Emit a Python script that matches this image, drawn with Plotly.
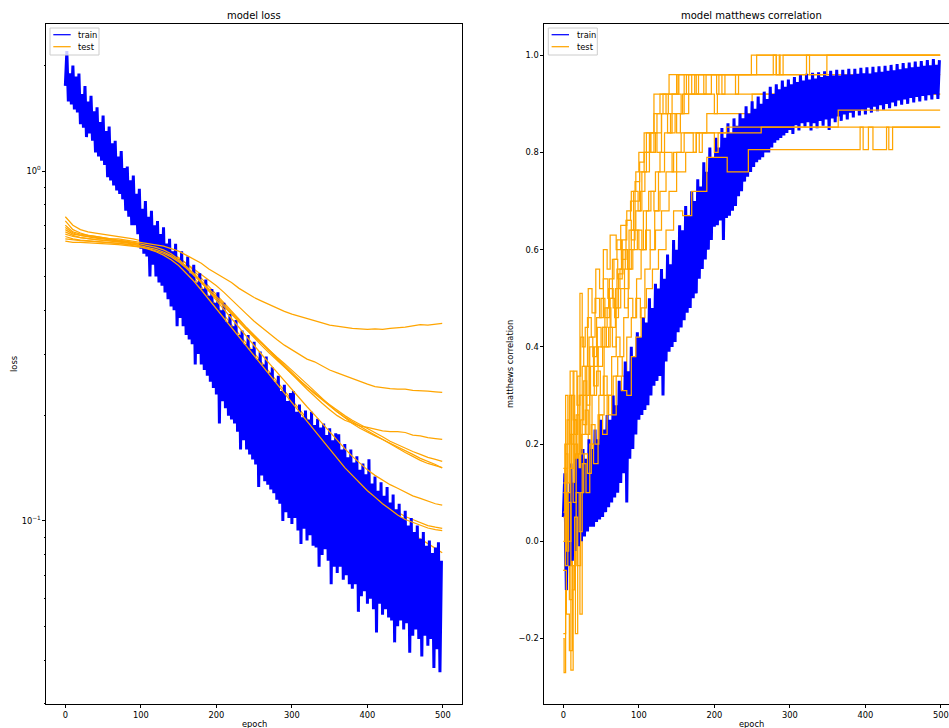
import plotly.graph_objects as go

# ---------------- data ----------------
TRAIN_EPOCHS = list(range(0, 500, 2))
TEST_EPOCHS = list(range(0, 500, 10)) + [499]

loss_train = [
    1.75, 2.2, 1.58, 1.9, 1.55, 2.0, 1.5, 1.86, 1.47, 1.9,
    1.36, 1.66, 1.33, 1.75, 1.25, 1.58, 1.28, 1.64, 1.22, 1.48,
    1.13, 1.52, 1.1, 1.38, 1.07, 1.44, 1.04, 1.3, 0.96, 1.34,
    0.94, 1.2, 0.91, 1.22, 0.88, 1.1, 0.86, 1.14, 0.83, 1.02,
    0.77, 1.03, 0.74, 0.94, 0.7, 0.97, 0.7, 0.86, 0.66, 0.89,
    0.6, 0.78, 0.58, 0.82, 0.57, 0.74, 0.5, 0.77, 0.54, 0.7,
    0.5, 0.72, 0.48, 0.66, 0.47, 0.69, 0.45, 0.62, 0.43, 0.64,
    0.41, 0.59, 0.4, 0.62, 0.36, 0.56, 0.38, 0.59, 0.36, 0.54,
    0.34, 0.57, 0.33, 0.51, 0.32, 0.54, 0.28, 0.48, 0.3, 0.51,
    0.28, 0.46, 0.27, 0.49, 0.26, 0.44, 0.25, 0.46, 0.24, 0.42,
    0.23, 0.45, 0.19, 0.4, 0.22, 0.42, 0.21, 0.37, 0.2, 0.39,
    0.195, 0.36, 0.19, 0.375, 0.18, 0.34, 0.16, 0.35, 0.17, 0.32,
    0.16, 0.34, 0.155, 0.31, 0.15, 0.325, 0.145, 0.29, 0.125, 0.305,
    0.135, 0.28, 0.13, 0.295, 0.127, 0.265, 0.123, 0.275, 0.12, 0.25,
    0.115, 0.26, 0.112, 0.235, 0.1, 0.245, 0.106, 0.22, 0.102, 0.232,
    0.098, 0.235, 0.102, 0.205, 0.094, 0.215, 0.086, 0.198, 0.095, 0.207,
    0.088, 0.195, 0.091, 0.205, 0.085, 0.188, 0.084, 0.196, 0.074, 0.185,
    0.08, 0.19, 0.083, 0.176, 0.077, 0.184, 0.066, 0.17, 0.074, 0.178,
    0.071, 0.177, 0.074, 0.16, 0.068, 0.166, 0.07, 0.152, 0.066, 0.16,
    0.064, 0.147, 0.066, 0.153, 0.055, 0.14, 0.061, 0.146, 0.063, 0.136,
    0.058, 0.15, 0.06, 0.128, 0.056, 0.134, 0.048, 0.122, 0.058, 0.129,
    0.054, 0.118, 0.056, 0.125, 0.053, 0.113, 0.052, 0.119, 0.045, 0.108,
    0.05, 0.112, 0.052, 0.102, 0.049, 0.107, 0.051, 0.097, 0.042, 0.102,
    0.047, 0.093, 0.049, 0.097, 0.046, 0.089, 0.041, 0.093, 0.047, 0.085,
    0.044, 0.088, 0.046, 0.081, 0.038, 0.084, 0.043, 0.087, 0.037, 0.077,
]

loss_test_a = [0.70, 0.67, 0.66, 0.655, 0.65, 0.645, 0.64, 0.64, 0.635, 0.63,
               0.625, 0.62, 0.615, 0.61, 0.60, 0.59, 0.575, 0.56, 0.545, 0.525,
               0.51, 0.495, 0.48, 0.462, 0.447, 0.435, 0.425, 0.415, 0.405, 0.397,
               0.39, 0.384, 0.378, 0.372, 0.368, 0.363, 0.36, 0.357, 0.355, 0.354,
               0.353, 0.354, 0.353, 0.355, 0.356, 0.358, 0.361, 0.364, 0.363, 0.366, 0.367]
loss_test_b = [0.74, 0.70, 0.68, 0.67, 0.665, 0.66, 0.655, 0.65, 0.645, 0.64,
               0.632, 0.624, 0.615, 0.605, 0.59, 0.565, 0.545, 0.525, 0.505, 0.487,
               0.47, 0.45, 0.43, 0.41, 0.39, 0.372, 0.357, 0.343, 0.33, 0.318,
               0.308, 0.298, 0.29, 0.285, 0.277, 0.27, 0.265, 0.26, 0.255, 0.25,
               0.246, 0.242, 0.24, 0.239, 0.238, 0.238, 0.236, 0.236, 0.235, 0.234, 0.233]
loss_test_c = [0.66, 0.65, 0.645, 0.64, 0.637, 0.635, 0.632, 0.63, 0.627, 0.623,
               0.618, 0.612, 0.605, 0.595, 0.58, 0.56, 0.535, 0.51, 0.485, 0.46,
               0.437, 0.415, 0.395, 0.375, 0.355, 0.338, 0.322, 0.306, 0.29, 0.275,
               0.262, 0.25, 0.238, 0.227, 0.217, 0.208, 0.2, 0.194, 0.19, 0.187,
               0.185, 0.183, 0.181, 0.18, 0.18, 0.179, 0.176, 0.175, 0.173, 0.172, 0.171]
loss_test_d = [0.68, 0.66, 0.655, 0.65, 0.645, 0.64, 0.637, 0.633, 0.63, 0.625,
               0.62, 0.613, 0.605, 0.595, 0.582, 0.565, 0.545, 0.52, 0.494, 0.468,
               0.444, 0.42, 0.398, 0.377, 0.357, 0.34, 0.323, 0.307, 0.292, 0.278,
               0.265, 0.253, 0.242, 0.232, 0.223, 0.215, 0.207, 0.2, 0.194, 0.189,
               0.184, 0.179, 0.174, 0.169, 0.165, 0.161, 0.158, 0.155, 0.152, 0.15, 0.148]
loss_test_e = [0.63, 0.625, 0.625, 0.624, 0.622, 0.62, 0.618, 0.616, 0.613, 0.61,
               0.606, 0.60, 0.592, 0.582, 0.568, 0.55, 0.528, 0.505, 0.48, 0.455,
               0.432, 0.41, 0.388, 0.368, 0.35, 0.333, 0.317, 0.302, 0.288, 0.275,
               0.263, 0.252, 0.241, 0.231, 0.222, 0.213, 0.205, 0.198, 0.192, 0.186,
               0.181, 0.176, 0.171, 0.166, 0.161, 0.157, 0.153, 0.149, 0.146, 0.144, 0.142]
loss_test_f = [0.72, 0.68, 0.665, 0.655, 0.65, 0.645, 0.64, 0.635, 0.63, 0.624,
               0.617, 0.609, 0.60, 0.588, 0.573, 0.555, 0.533, 0.508, 0.482, 0.457,
               0.433, 0.41, 0.389, 0.37, 0.352, 0.336, 0.321, 0.307, 0.294, 0.282,
               0.27, 0.258, 0.246, 0.235, 0.224, 0.214, 0.205, 0.197, 0.19, 0.184,
               0.179, 0.175, 0.171, 0.167, 0.163, 0.159, 0.155, 0.151, 0.148, 0.145, 0.1417]
loss_test_g = [0.65, 0.64, 0.635, 0.632, 0.63, 0.628, 0.626, 0.623, 0.62, 0.616,
               0.611, 0.605, 0.597, 0.587, 0.573, 0.555, 0.533, 0.508, 0.481, 0.454,
               0.427, 0.402, 0.378, 0.356, 0.336, 0.317, 0.299, 0.282, 0.266, 0.251,
               0.237, 0.224, 0.212, 0.201, 0.19, 0.18, 0.17, 0.161, 0.153, 0.146,
               0.14, 0.135, 0.131, 0.127, 0.124, 0.121, 0.118, 0.116, 0.114, 0.112, 0.111]
loss_test_h = [0.69, 0.665, 0.655, 0.648, 0.643, 0.64, 0.636, 0.632, 0.628, 0.622,
               0.615, 0.607, 0.597, 0.585, 0.568, 0.548, 0.523, 0.496, 0.467, 0.44,
               0.413, 0.388, 0.364, 0.342, 0.321, 0.301, 0.283, 0.266, 0.25, 0.235,
               0.221, 0.208, 0.196, 0.184, 0.173, 0.163, 0.153, 0.144, 0.136, 0.129,
               0.123, 0.118, 0.113, 0.109, 0.106, 0.103, 0.101, 0.099, 0.097, 0.096, 0.0953]
loss_test_i = [0.64, 0.635, 0.632, 0.63, 0.628, 0.626, 0.624, 0.621, 0.617, 0.612,
               0.606, 0.598, 0.588, 0.575, 0.558, 0.537, 0.512, 0.485, 0.457, 0.43,
               0.404, 0.38, 0.357, 0.336, 0.316, 0.297, 0.28, 0.263, 0.247, 0.232,
               0.218, 0.205, 0.193, 0.181, 0.17, 0.16, 0.151, 0.142, 0.135, 0.128,
               0.122, 0.117, 0.112, 0.108, 0.104, 0.101, 0.099, 0.097, 0.0955, 0.0945, 0.0938]
loss_test_j = [0.67, 0.655, 0.645, 0.64, 0.636, 0.633, 0.63, 0.627, 0.623, 0.618,
               0.612, 0.604, 0.594, 0.58, 0.562, 0.54, 0.513, 0.484, 0.453, 0.423,
               0.394, 0.367, 0.342, 0.319, 0.297, 0.277, 0.259, 0.242, 0.226, 0.211,
               0.198, 0.186, 0.174, 0.164, 0.154, 0.146, 0.138, 0.131, 0.124, 0.118,
               0.113, 0.108, 0.104, 0.10, 0.097, 0.094, 0.091, 0.089, 0.086, 0.0835, 0.0811]

mcc_train = [
    0.05, 0.14, -0.1, 0.1, -0.05, 0.16, -0.04, 0.12, -0.02, 0.17,
    -0.01, 0.15, 0.0, 0.19, 0.01, 0.17, 0.02, 0.21, 0.03, 0.19,
    0.03, 0.23, 0.04, 0.21, 0.045, 0.25, 0.05, 0.23, 0.06, 0.26,
    0.07, 0.25, 0.08, 0.3, 0.09, 0.28, 0.1, 0.33, 0.12, 0.31,
    0.14, 0.37, 0.08, 0.35, 0.17, 0.4, 0.19, 0.38, 0.22, 0.43,
    0.25, 0.42, 0.26, 0.46, 0.27, 0.45, 0.28, 0.5, 0.3, 0.48,
    0.32, 0.53, 0.33, 0.52, 0.34, 0.56, 0.3, 0.54, 0.37, 0.59,
    0.39, 0.57, 0.4, 0.62, 0.41, 0.6, 0.43, 0.65, 0.44, 0.64,
    0.455, 0.69, 0.47, 0.67, 0.48, 0.72, 0.5, 0.7, 0.51, 0.745,
    0.54, 0.73, 0.56, 0.78, 0.58, 0.76, 0.6, 0.81, 0.62, 0.79,
    0.647, 0.83, 0.65, 0.81, 0.66, 0.85, 0.62, 0.83, 0.665, 0.86,
    0.67, 0.84, 0.68, 0.87, 0.69, 0.855, 0.71, 0.88, 0.72, 0.87,
    0.74, 0.895, 0.75, 0.88, 0.76, 0.905, 0.77, 0.89, 0.78, 0.915,
    0.785, 0.9, 0.79, 0.925, 0.8, 0.91, 0.8, 0.935, 0.81, 0.92,
    0.82, 0.94, 0.825, 0.93, 0.83, 0.948, 0.835, 0.935, 0.84, 0.95,
    0.846, 0.94, 0.838, 0.955, 0.856, 0.945, 0.845, 0.96, 0.86, 0.948,
    0.853, 0.962, 0.862, 0.95, 0.845, 0.964, 0.86, 0.952, 0.85, 0.965,
    0.865, 0.955, 0.855, 0.967, 0.868, 0.957, 0.846, 0.968, 0.87, 0.958,
    0.862, 0.97, 0.874, 0.958, 0.865, 0.97, 0.878, 0.96, 0.868, 0.972,
    0.882, 0.96, 0.872, 0.972, 0.886, 0.962, 0.876, 0.974, 0.888, 0.963,
    0.878, 0.975, 0.892, 0.962, 0.882, 0.976, 0.894, 0.965, 0.885, 0.977,
    0.897, 0.966, 0.888, 0.978, 0.9, 0.968, 0.891, 0.98, 0.903, 0.969,
    0.895, 0.982, 0.907, 0.971, 0.898, 0.984, 0.909, 0.973, 0.9, 0.985,
    0.912, 0.975, 0.903, 0.987, 0.914, 0.976, 0.905, 0.988, 0.916, 0.978,
    0.907, 0.99, 0.918, 0.979, 0.909, 0.992, 0.92, 0.98, 0.91, 0.99,
]

# test folds: [epoch, value] change points (drawn as steps)
mcc_test_1 = [[0, 0.06], [2, 0.2], [5, 0.12], [8, 0.3], [11, 0.2], [14, 0.35], [18, 0.28], [22, 0.51],
              [25, 0.4], [29, 0.44], [33, 0.52], [38, 0.47], [43, 0.56], [48, 0.52], [53, 0.6], [58, 0.56],
              [62, 0.63], [70, 0.6], [76, 0.65], [84, 0.68], [90, 0.72], [96, 0.76], [100, 0.8], [110, 0.84],
              [120, 0.92], [136, 0.88], [139, 0.92], [152, 0.96], [160, 0.92], [163, 0.96], [249, 1.0],
              [287, 0.96], [291, 1.0], [499, 1.0]]
mcc_test_2 = [[0, -0.2], [1, -0.27], [3, -0.1], [5, 0.05], [8, -0.05], [11, 0.12], [15, 0.2], [19, 0.1],
              [23, 0.25], [27, 0.33], [31, 0.28], [35, 0.4], [40, 0.36], [45, 0.44], [50, 0.4], [55, 0.48],
              [60, 0.52], [66, 0.48], [71, 0.56], [77, 0.6], [82, 0.56], [87, 0.64], [93, 0.72], [99, 0.68],
              [104, 0.76], [110, 0.8], [116, 0.84], [124, 0.88], [132, 0.92], [150, 0.96], [170, 0.92],
              [174, 0.96], [186, 0.92], [189, 0.96], [499, 0.96]]
mcc_test_3 = [[0, 0.12], [3, -0.05], [6, 0.1], [9, 0.22], [13, 0.08], [17, 0.26], [21, 0.18], [25, 0.3],
              [30, 0.22], [35, 0.36], [40, 0.32], [46, 0.4], [52, 0.44], [57, 0.4], [62, 0.5], [68, 0.46],
              [73, 0.55], [79, 0.6], [85, 0.56], [90, 0.64], [96, 0.68], [102, 0.72], [108, 0.76], [114, 0.8],
              [122, 0.84], [130, 0.88], [138, 0.84], [144, 0.92], [156, 0.88], [160, 0.92], [166, 0.96],
              [176, 0.92], [179, 0.96], [210, 0.92], [214, 0.96], [322, 1.0], [326, 0.96], [349, 1.0], [499, 1.0]]
mcc_test_4 = [[0, -0.06], [2, 0.15], [5, 0.0], [8, -0.12], [12, 0.05], [16, 0.18], [20, 0.12], [24, 0.22],
              [29, 0.27], [33, 0.2], [38, 0.3], [44, 0.35], [49, 0.3], [54, 0.4], [60, 0.44], [65, 0.4],
              [70, 0.48], [76, 0.52], [81, 0.48], [86, 0.56], [92, 0.6], [98, 0.64], [104, 0.6], [110, 0.68],
              [116, 0.72], [122, 0.76], [128, 0.8], [134, 0.84], [142, 0.88], [150, 0.84], [155, 0.88],
              [166, 0.92], [200, 0.88], [204, 0.92], [499, 0.92]]
mcc_test_5 = [[0, -0.06], [4, -0.15], [8, -0.225], [12, -0.1], [15, 0.05], [19, -0.05], [23, 0.1], [27, 0.18],
              [32, 0.14], [37, 0.24], [42, 0.2], [47, 0.3], [53, 0.34], [58, 0.3], [64, 0.38], [70, 0.42],
              [75, 0.38], [80, 0.46], [86, 0.5], [92, 0.46], [97, 0.54], [103, 0.6], [109, 0.64], [115, 0.6],
              [121, 0.68], [128, 0.72], [136, 0.76], [146, 0.8], [156, 0.84], [172, 0.8], [176, 0.84],
              [200, 0.8], [205, 0.84], [262, 0.852], [364, 0.887], [499, 0.887]]
mcc_test_6 = [[0, 0.05], [3, 0.18], [6, 0.0], [10, 0.15], [14, 0.25], [18, 0.18], [22, 0.3], [26, 0.24],
              [31, 0.36], [36, 0.3], [41, 0.4], [46, 0.36], [52, 0.44], [58, 0.48], [63, 0.44], [69, 0.52],
              [75, 0.56], [81, 0.52], [87, 0.6], [94, 0.64], [100, 0.6], [106, 0.68], [113, 0.72], [120, 0.68],
              [126, 0.76], [134, 0.8], [144, 0.76], [150, 0.8], [160, 0.84], [180, 0.8], [184, 0.84],
              [216, 0.852], [499, 0.852]]
mcc_test_7 = [[0, 0.1], [4, -0.02], [7, 0.08], [10, -0.265], [13, -0.05], [17, 0.1], [21, 0.02], [25, 0.16],
              [30, 0.1], [35, 0.2], [40, 0.16], [46, 0.26], [52, 0.22], [58, 0.3], [64, 0.26], [70, 0.34],
              [77, 0.31], [84, 0.3], [90, 0.38], [96, 0.42], [103, 0.48], [110, 0.52], [118, 0.56], [126, 0.6],
              [136, 0.64], [146, 0.68], [158, 0.67], [170, 0.72], [190, 0.79], [217, 0.76], [245, 0.806],
              [393, 0.852], [397, 0.806], [404, 0.852], [410, 0.806], [428, 0.852], [431, 0.806],
              [436, 0.852], [499, 0.852]]
mcc_test_8 = [[0, 0.15], [3, 0.3], [6, 0.2], [9, 0.35], [13, 0.25], [17, 0.1], [21, 0.3], [25, 0.36],
              [29, 0.3], [34, 0.42], [39, 0.38], [44, 0.46], [50, 0.5], [55, 0.46], [61, 0.54], [67, 0.58],
              [72, 0.54], [78, 0.62], [84, 0.66], [90, 0.62], [95, 0.7], [101, 0.76], [107, 0.8], [115, 0.84],
              [124, 0.8], [130, 0.88], [142, 0.84], [148, 0.88], [158, 0.92], [196, 0.96], [203, 0.92],
              [206, 0.96], [278, 1.0], [282, 0.96], [499, 0.96]]
mcc_test_9 = [[0, -0.19], [3, 0.0], [6, 0.1], [9, -0.05], [12, 0.05], [16, -0.19], [19, 0.0], [22, -0.15],
              [25, 0.05], [29, 0.15], [33, 0.1], [38, 0.2], [43, 0.17], [48, 0.26], [54, 0.3], [60, 0.26],
              [66, 0.34], [72, 0.38], [78, 0.34], [84, 0.42], [90, 0.46], [96, 0.5], [102, 0.46], [108, 0.56],
              [115, 0.6], [122, 0.64], [130, 0.68], [140, 0.72], [150, 0.76], [162, 0.8], [176, 0.84],
              [190, 0.88], [250, 0.92], [499, 0.92]]
mcc_test_10 = [[0, 0.0], [2, 0.12], [5, 0.25], [8, 0.15], [11, 0.3], [15, 0.22], [19, 0.34], [23, 0.42],
               [27, 0.36], [32, 0.46], [37, 0.42], [42, 0.5], [48, 0.46], [53, 0.54], [59, 0.5], [65, 0.58],
               [71, 0.62], [77, 0.58], [83, 0.66], [89, 0.7], [95, 0.74], [101, 0.78], [107, 0.84], [114, 0.8],
               [120, 0.88], [128, 0.92], [140, 0.96], [150, 0.92], [153, 0.96], [228, 0.92], [232, 0.96],
               [256, 1.0], [282, 0.96], [286, 1.0], [499, 1.0]]

X_TICKS = [0, 100, 200, 300, 400, 500]
LOSS_TICKS = [0.1, 1]
LOSS_TICK_TEXT = ["10<sup>\u22121</sup>", "10<sup>0</sup>"]
LOSS_MINOR = [0.03, 0.04, 0.05, 0.06, 0.07, 0.08, 0.09, 0.2, 0.3, 0.4, 0.5, 0.6, 0.7, 0.8, 0.9, 2]
MCC_TICKS = [-0.2, 0.0, 0.2, 0.4, 0.6, 0.8, 1.0]
MCC_TICK_TEXT = ["\u22120.2", "0.0", "0.2", "0.4", "0.6", "0.8", "1.0"]
LEGEND_LABELS = ["train", "test"]

# ---------------- figure ----------------
W, H = 949, 728
BLUE = "#0000ff"
ORANGE = "#ffa500"
FONT = "DejaVu Sans"
LW = 1.25
TRAIN_LW = 3.0


def fx(p):
    return p / W


def fy(p):
    return 1 - p / H


fig = go.Figure()

loss_tests = [loss_test_a, loss_test_b, loss_test_c, loss_test_d, loss_test_e,
              loss_test_f, loss_test_g, loss_test_h, loss_test_i, loss_test_j]
mcc_tests = [mcc_test_1, mcc_test_2, mcc_test_3, mcc_test_4, mcc_test_5,
             mcc_test_6, mcc_test_7, mcc_test_8, mcc_test_9, mcc_test_10]


def add_loss_test(vals):
    fig.add_trace(go.Scatter(
        x=TEST_EPOCHS, y=vals, mode="lines", line=dict(color=ORANGE, width=LW),
        name="test", showlegend=False, xaxis="x", yaxis="y", hoverinfo="skip"))


def add_mcc_test(pts):
    fig.add_trace(go.Scatter(
        x=[p[0] for p in pts], y=[p[1] for p in pts], mode="lines", line_shape="hv",
        line=dict(color=ORANGE, width=LW, simplify=False),
        name="test", showlegend=False, xaxis="x2", yaxis="y2", hoverinfo="skip"))


# left panel: some test folds under, some over the train band (folds interleaved)
for i in [1, 3, 5, 7, 9]:
    add_loss_test(loss_tests[i])
fig.add_trace(go.Scatter(
    x=TRAIN_EPOCHS, y=loss_train, mode="lines",
    line=dict(color=BLUE, width=TRAIN_LW, simplify=False),
    name="train", showlegend=False, xaxis="x", yaxis="y", hoverinfo="skip"))
for i in [0, 2, 4, 6, 8]:
    add_loss_test(loss_tests[i])

# right panel
for i in [1, 3, 7, 8]:
    add_mcc_test(mcc_tests[i])
fig.add_trace(go.Scatter(
    x=TRAIN_EPOCHS, y=mcc_train, mode="lines",
    line=dict(color=BLUE, width=TRAIN_LW, simplify=False),
    name="train", showlegend=False, xaxis="x2", yaxis="y2", hoverinfo="skip"))
for i in [0, 2, 4, 5, 6, 9]:
    add_mcc_test(mcc_tests[i])

tickfont = dict(family=FONT, size=8.3, color="black")
common_x = dict(
    tickmode="array", tickvals=X_TICKS, ticks="outside", ticklen=3, tickwidth=0.8,
    tickcolor="black", showline=True, linecolor="black", linewidth=0.8, mirror=True,
    showgrid=False, zeroline=False, tickfont=tickfont, automargin=False,
)
ydom = [fy(704), fy(24)]

fig.update_layout(
    width=W, height=H, margin=dict(l=0, r=0, t=0, b=0),
    paper_bgcolor="white", plot_bgcolor="white",
    font=dict(family=FONT, color="black"),
    showlegend=False,
    xaxis=dict(domain=[fx(46.3), fx(461.7)], range=[-25.2, 524.8], anchor="y", **common_x),
    yaxis=dict(
        domain=ydom, type="log", range=[-1.5229, 0.42], anchor="x",
        tickmode="array", tickvals=LOSS_TICKS, ticktext=LOSS_TICK_TEXT,
        ticks="outside", ticklen=3, tickwidth=0.8, tickcolor="black",
        minor=dict(tickmode="array", tickvals=LOSS_MINOR, ticks="outside", ticklen=1.7,
                   tickwidth=0.6, tickcolor="black", showgrid=False),
        showline=True, linecolor="black", linewidth=0.8, mirror=True,
        showgrid=False, zeroline=False, tickfont=tickfont, automargin=False,
    ),
    xaxis2=dict(domain=[fx(544.3), 1.0], range=[-25.2, 510.7], anchor="y2", **common_x),
    yaxis2=dict(
        domain=ydom, range=[-0.3347, 1.0642], anchor="x2",
        tickmode="array", tickvals=MCC_TICKS, ticktext=MCC_TICK_TEXT,
        ticks="outside", ticklen=3, tickwidth=0.8, tickcolor="black",
        showline=True, linecolor="black", linewidth=0.8, mirror=False,
        showgrid=False, zeroline=False, tickfont=tickfont, automargin=False,
    ),
)

annots = [
    dict(text="model loss", x=fx(254), y=fy(15.5), size=10, angle=0),
    dict(text="model matthews correlation", x=fx(751.5), y=fy(15.5), size=10, angle=0),
    dict(text="epoch", x=fx(254), y=fy(724), size=8.3, angle=0),
    dict(text="epoch", x=fx(751.5), y=fy(724), size=8.3, angle=0),
    dict(text="loss", x=fx(14), y=fy(364), size=8.3, angle=-90),
    dict(text="matthews correlation", x=fx(510), y=fy(364), size=8.3, angle=-90),
]
for a in annots:
    fig.add_annotation(
        text=a["text"], x=a["x"], y=a["y"], xref="paper", yref="paper",
        xanchor="center", yanchor="middle", showarrow=False, textangle=a["angle"],
        font=dict(family=FONT, size=a["size"], color="black"),
    )

# legends (matplotlib-style boxes, upper left of each panel)
for off in [0.0, 498.3]:
    fig.add_shape(type="rect", xref="paper", yref="paper",
                  x0=fx(50 + off), x1=fx(99 + off), y0=fy(55), y1=fy(28),
                  fillcolor="rgba(255,255,255,0.8)", line=dict(color="#cccccc", width=1),
                  layer="above")
    for label, color, yy in [(LEGEND_LABELS[0], BLUE, 34.7), (LEGEND_LABELS[1], ORANGE, 46.7)]:
        fig.add_shape(type="line", xref="paper", yref="paper",
                      x0=fx(53.3 + off), x1=fx(70.7 + off), y0=fy(yy), y1=fy(yy),
                      line=dict(color=color, width=LW), layer="above")
        fig.add_annotation(text=label, x=fx(76.2 + off), y=fy(yy), xref="paper", yref="paper",
                           xanchor="left", yanchor="middle", showarrow=False,
                           font=dict(family=FONT, size=8.3, color="black"))

fig.write_html("out.html")
